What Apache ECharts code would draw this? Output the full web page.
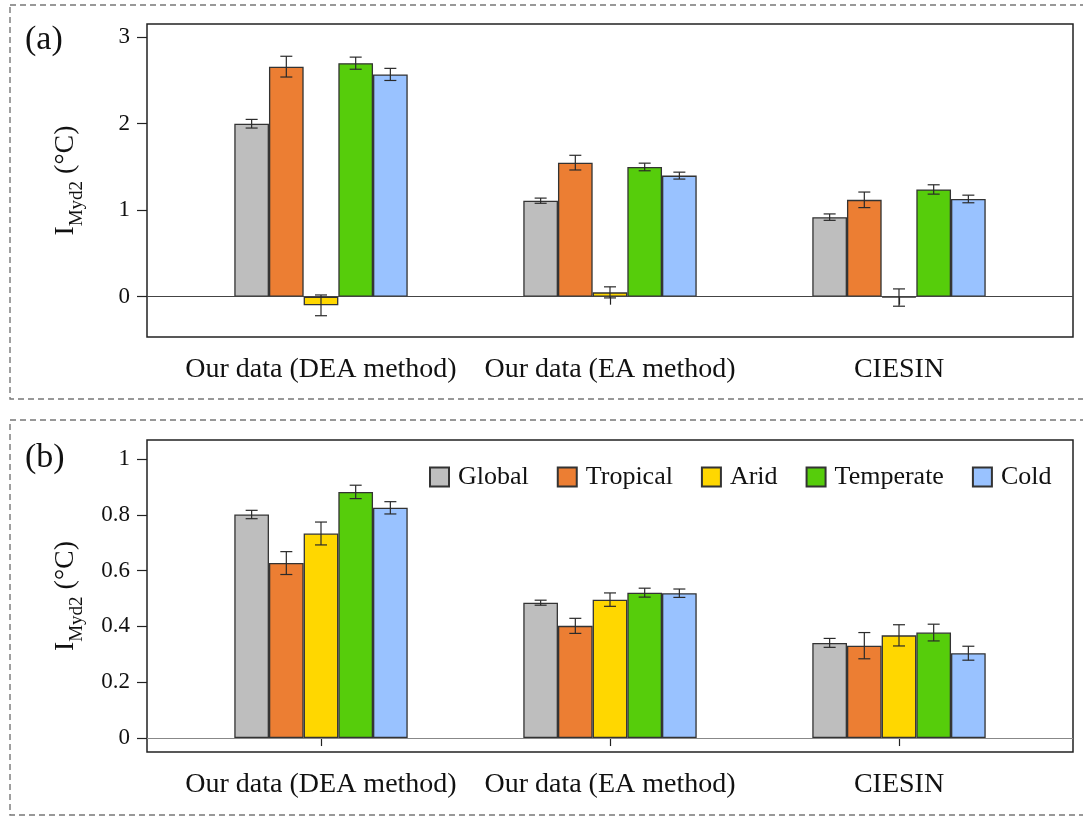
<!DOCTYPE html>
<html><head><meta charset="utf-8">
<script src="https://cdn.jsdelivr.net/npm/echarts@6/dist/echarts.min.js"></script>
<style>html,body{margin:0;padding:0;background:#fff}#c{width:1083px;height:820px}</style>
</head><body><div id="c"></div>
<script>
// ---------- data ----------
const categories = ['Our data (DEA method)', 'Our data (EA method)', 'CIESIN'];
const regions = ['Global', 'Tropical', 'Arid', 'Temperate', 'Cold'];
const colors = ['#BEBEBE', '#EC7E33', '#FFD700', '#56CD0B', '#99C2FF'];

// panel (a)
const aGlobal    = [2.00, 1.11, 0.92];
const aTropical  = [2.66, 1.55, 1.12];
const aArid      = [-0.10, 0.05, -0.01];
const aTemperate = [2.70, 1.50, 1.24];
const aCold      = [2.57, 1.40, 1.13];
const aGlobalErr    = [0.05, 0.03, 0.037];
const aTropicalErr  = [0.12, 0.085, 0.09];
const aAridErr      = [0.12, 0.064, 0.10];
const aTemperateErr = [0.07, 0.044, 0.054];
const aColdErr      = [0.07, 0.04, 0.044];

// panel (b)
const bGlobal    = [0.801, 0.485, 0.341];
const bTropical  = [0.627, 0.402, 0.331];
const bArid      = [0.733, 0.496, 0.368];
const bTemperate = [0.882, 0.521, 0.378];
const bCold      = [0.825, 0.519, 0.304];
const bGlobalErr    = [0.015, 0.009, 0.016];
const bTropicalErr  = [0.041, 0.027, 0.047];
const bAridErr      = [0.041, 0.024, 0.038];
const bTemperateErr = [0.024, 0.016, 0.030];
const bColdErr      = [0.022, 0.015, 0.025];

const ticksA = [0, 1, 2, 3];
const ticksB = [0, 0.2, 0.4, 0.6, 0.8, 1];
const rangeA = [-0.466, 3.153];
const rangeB = [-0.050, 1.068];
const zeroLevel = 0;

// ---------- build ----------
const valsA = [aGlobal, aTropical, aArid, aTemperate, aCold];
const errsA = [aGlobalErr, aTropicalErr, aAridErr, aTemperateErr, aColdErr];
const valsB = [bGlobal, bTropical, bArid, bTemperate, bCold];
const errsB = [bGlobalErr, bTropicalErr, bAridErr, bTemperateErr, bColdErr];

const FONT = '"Liberation Serif", "Times New Roman", serif';
const GAP = 0.4;

function errData(vals, errs) {
  const out = [];
  vals.forEach((arr, k) => arr.forEach((v, c) => out.push([c, k, v, errs[k][c]])));
  return out;
}
function renderErr(params, api) {
  const c = api.value(0), k = api.value(1), v = api.value(2), e = api.value(3);
  const band = api.size([1, 0])[0];
  const bw = band * (1 - GAP) / regions.length;
  const x = api.coord([c, v])[0] + (k - (regions.length - 1) / 2) * bw;
  const top = api.coord([c, v + e])[1];
  const bot = api.coord([c, v - e])[1];
  const cap = 6;
  const st = { stroke: '#2a2a2a', lineWidth: 1.2 };
  return { type: 'group', children: [
    { type: 'line', shape: { x1: x, y1: top, x2: x, y2: bot }, style: st },
    { type: 'line', shape: { x1: x - cap, y1: top, x2: x + cap, y2: top }, style: st },
    { type: 'line', shape: { x1: x - cap, y1: bot, x2: x + cap, y2: bot }, style: st }
  ]};
}

const nameRich = {
  i: { fontSize: 28, fontFamily: FONT, color: '#111', lineHeight: 35, verticalAlign: 'top' },
  s: { fontSize: 19, fontFamily: FONT, color: '#111', verticalAlign: 'bottom' }
};

function frameY(gi, range, ticks, fmt) {
  return {
    gridIndex: gi, type: 'value', min: range[0], max: range[1],
    axisLine: { show: false },
    axisTick: { show: true, customValues: ticks, length: 10, lineStyle: { color: '#222', width: 1.2 } },
    axisLabel: { customValues: ticks, fontSize: 23, fontFamily: FONT, color: '#111', margin: 17, formatter: fmt },
    splitLine: { show: false },
    name: '{i|I}{s|Myd2}{i| (°C)}', nameLocation: 'middle', nameRotate: 90, nameGap: 60,
    nameTextStyle: { rich: nameRich }
  };
}
function catX(gi) {
  return {
    gridIndex: gi, type: 'category', data: categories,
    axisLine: { show: false },
    axisTick: { show: true, interval: 0, alignWithLabel: true, length: 8, lineStyle: { color: '#222', width: 1.2 } },
    axisLabel: { interval: 0, fontSize: 28, fontFamily: FONT, color: '#111', margin: 19 },
    splitLine: { show: false }
  };
}

const series = [];
function addPanel(vals, errs, xi, yi, fxi, fyi, zeroColor) {
  vals.forEach((arr, k) => {
    series.push({
      type: 'bar', name: regions[k], xAxisIndex: xi, yAxisIndex: yi, data: arr,
      barGap: '0%', barCategoryGap: (GAP * 100) + '%',
      itemStyle: { color: colors[k], borderColor: '#333', borderWidth: 1.3 },
      emphasis: { disabled: true }, z: 3
    });
  });
  series.push({
    type: 'custom', xAxisIndex: xi, yAxisIndex: yi, data: errData(vals, errs),
    encode: { x: 0, y: 2 }, renderItem: renderErr, z: 5, silent: true
  });
  series.push({
    type: 'line', xAxisIndex: fxi, yAxisIndex: fyi, data: [], silent: true, z: 4,
    markLine: { symbol: 'none', silent: true, label: { show: false },
      lineStyle: { color: zeroColor, type: 'solid', width: 1.2 },
      data: [{ yAxis: zeroLevel }] }
  });
}
addPanel(valsA, errsA, 1, 1, 0, 0, '#444');
addPanel(valsB, errsB, 3, 3, 2, 2, '#888');

const option = {
  backgroundColor: '#fff',
  animation: false,
  title: [
    { text: '(a)', left: 20, top: 18, textStyle: { fontSize: 34, fontWeight: 'normal', fontFamily: FONT, color: '#111' } },
    { text: '(b)', left: 20, top: 436, textStyle: { fontSize: 34, fontWeight: 'normal', fontFamily: FONT, color: '#111' } }
  ],
  graphic: [
    { type: 'rect', shape: { x: 10, y: 5, width: 1085, height: 394 }, style: { fill: 'none', stroke: '#777', lineWidth: 1.4, lineDash: [6, 4] }, silent: true },
    { type: 'rect', shape: { x: 10, y: 420, width: 1085, height: 395 }, style: { fill: 'none', stroke: '#777', lineWidth: 1.4, lineDash: [6, 4] }, silent: true }
  ],
  legend: {
    data: regions, left: 429, top: 464, padding: 0, itemWidth: 19, itemHeight: 19, itemGap: 28,
    icon: 'rect', selectedMode: false,
    textStyle: { fontSize: 26, fontFamily: FONT, color: '#111', padding: [0, 0, 0, 4] }
  },
  grid: [
    { left: 147, top: 24, width: 926, height: 313, show: true, borderColor: '#222', borderWidth: 1.5, backgroundColor: 'transparent' },
    { left: 176.5, top: 24, width: 867, height: 313 },
    { left: 147, top: 440, width: 926, height: 312, show: true, borderColor: '#222', borderWidth: 1.5, backgroundColor: 'transparent' },
    { left: 176.5, top: 440, width: 867, height: 312 }
  ],
  xAxis: [
    { gridIndex: 0, type: 'value', min: 0, max: 1, show: false },
    catX(1),
    { gridIndex: 2, type: 'value', min: 0, max: 1, show: false },
    catX(3)
  ],
  yAxis: [
    frameY(0, rangeA, ticksA, v => String(v)),
    { gridIndex: 1, type: 'value', min: rangeA[0], max: rangeA[1], show: false },
    frameY(2, rangeB, ticksB, v => (v === 0 || v === 1) ? String(v) : v.toFixed(1)),
    { gridIndex: 3, type: 'value', min: rangeB[0], max: rangeB[1], show: false }
  ],
  series: series
};

const chart = echarts.init(document.getElementById('c'), null, { renderer: 'canvas' });
chart.setOption(option);
</script>
</body></html>
